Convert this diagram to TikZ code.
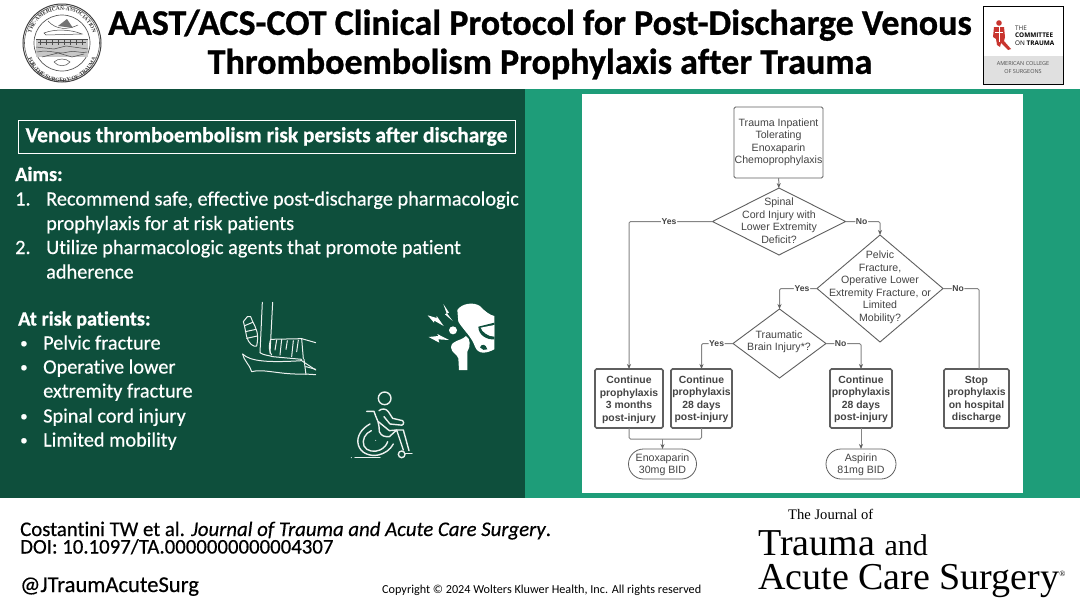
\documentclass[tikz,border=0pt]{standalone}
\usepackage{fontspec}
\setmainfont{Carlito}[Ligatures=NoCommon,BoldFeatures={FakeBold=.8},ItalicFeatures={FakeBold=.4}]
\newfontfamily\bodyfont{Carlito}[Ligatures=NoCommon,FakeBold=.45]
\newfontfamily\chartfont{Liberation Sans}
\newfontfamily\logofont{Liberation Serif}
\newfontfamily\cotfont{Open Sans}
\usetikzlibrary{shapes.geometric,shapes.misc,arrows.meta,decorations.text,calc}
\definecolor{darkgr}{HTML}{0E4F3C}
\definecolor{tealgr}{HTML}{1E9D79}
\definecolor{chartln}{HTML}{5F5F5F}
\definecolor{chartconn}{HTML}{858585}
\definecolor{charttx}{HTML}{444444}
\definecolor{cotred}{HTML}{C8352F}
\newcommand{\lowerby}[1]{\rule{0pt}{#1pt}}
\tikzset{
  x=1pt,y=-1pt,
  flowbox/.style={draw=chartln,line width=.9pt,rounded corners=1.5pt,fill=white,outer sep=0pt,inner sep=0pt,align=center,text=charttx,font=\chartfont\fontsize{10.6}{12.5}\selectfont},
  outcome/.style={flowbox,line width=1.6pt,font=\chartfont\bfseries\fontsize{10.4}{12.5}\selectfont},
  decision/.style={diamond,draw=chartln,line width=.9pt,fill=white,inner sep=0pt,outer sep=0pt},
  dtext/.style={align=center,text=charttx,font=\chartfont\fontsize{10.6}{12.5}\selectfont,inner sep=0pt},
  pill/.style={rounded rectangle,draw=chartln,line width=.8pt,fill=white,inner sep=0pt,outer sep=0pt,align=center,text=charttx,font=\chartfont\fontsize{10.6}{12.5}\selectfont},
  conn/.style={draw=chartconn,line width=1pt,rounded corners=1.5pt,-{Stealth[length=5pt,width=4pt,color=chartln]}},
  connplain/.style={draw=chartconn,line width=1pt,rounded corners=1.5pt},
  yn/.style={fill=white,inner sep=.6pt,text=charttx,font=\chartfont\bfseries\fontsize{8.6}{10}\selectfont},
  body/.style={anchor=base west,inner sep=0pt,text=white,font=\bodyfont\fontsize{20.3}{24}\selectfont},
  bodyb/.style={body,font=\bfseries\fontsize{20.3}{24}\selectfont},
  bulletmark/.style={body,font=\bodyfont\fontsize{15}{24}\selectfont},
  foot/.style={anchor=base west,inner sep=0pt,text=black,font=\bodyfont\fontsize{20.8}{22}\selectfont},
  iconln/.style={draw=white!92!darkgr,line width=1pt,line cap=round,line join=round},
  iconth/.style={draw=white!92!darkgr,line width=1.4pt,line cap=round,line join=round},
  sealln/.style={draw=black!70,line width=.5pt},
}
\begin{document}
\begin{tikzpicture}
\useasboundingbox (0,0) rectangle (1080,608);
\fill[white] (0,0) rectangle (1080,608);
\fill[darkgr] (0,89) rectangle (525,498);
\fill[tealgr] (525,89) rectangle (1080,498);
\fill[white] (582,94) rectangle (1023,493);

% title
\node[inner sep=0pt,align=center,text=black,font=\bfseries\fontsize{36}{39}\selectfont] (title) at (540,44.5)
 {AAST/ACS-COT Clinical Protocol for Post-Discharge Venous\\Thromboembolism Prophylaxis after Trauma};

% seal logo
\begin{scope}[shift={(62,43)}]
 \draw[black!75,line width=1pt] (0,0) circle (39);
 \draw[black!65,line width=.6pt] (0,0) circle (37.5);
 \draw[black!65,line width=.7pt] (0,0) circle (28);
 \path[postaction={decorate,decoration={text along path,text align=center,
   text={|\logofont\bfseries\fontsize{5.4}{7}\selectfont\color{black!80}|THE·AMERICAN·ASSOCIATION}}}]
   (-32,-1) arc[start angle=180,end angle=0,radius=32,y radius=-32];
 \path[postaction={decorate,decoration={text along path,text align=center,
   text={|\logofont\bfseries\fontsize{5.4}{7}\selectfont\color{black!80}|FOR·THE·SURGERY·OF·TRAUMA}}}]
   (-36,3) arc[start angle=180,end angle=360,radius=36,y radius=-36];
 \fill[black!22] (-26,-4) rectangle (26,14);
 \draw[sealln,line width=.9pt] (-26,-4) -- (26,-4) (-24,-1) -- (24,-1);
 \draw[sealln] (-26,4) -- (-8,6) -- (4,3) -- (26,6) (-25,9) .. controls (-12,6) and (-4,12) .. (6,9) .. controls (14,7) and (20,11) .. (25,9) (-20,14) -- (-4,10) -- (10,14) -- (22,11);
 \foreach \xx in {-22,-16,...,22}{\draw[sealln] (\xx,-4) -- (\xx,2);}
 \draw[sealln] (-14,-22) .. controls (-6,-13) and (6,-13) .. (16,-18) (-18,-10) .. controls (-8,-14) and (8,-14) .. (20,-9) -- (-16,-8) -- cycle;
 \fill[black!55] (-4,-17) -- (5,-24) -- (11,-15) -- cycle;
 \draw[sealln] (-8,19) .. controls (-4,15) and (4,15) .. (8,19) .. controls (4,24) and (-4,24) .. (-8,19);
\end{scope}

% COT logo
\draw[black,line width=.9pt,fill=white] (983,6) rectangle (1063,84);
\fill[black!12] (983.5,56) rectangle (1062.5,83.5);
\begin{scope}[cotred]
 \fill (999,23) circle (2.8);
 \fill (994,27) -- (1004,27) -- (1005,37) -- (1004,41) -- (1011,49) -- (1008,50) -- (1001,43) -- (1000,47) -- (997,45) -- (996,39) -- (993,37) -- cycle;
\end{scope}
\draw[white,line width=.4pt] (999,27) -- (999,42) (995,32) -- (1003,32);
\node[anchor=base west,inner sep=0pt,font=\cotfont\fontsize{6.4}{7}\selectfont,text=black!80] (cot1) at (1015,30) {THE};
\node[anchor=base west,inner sep=0pt,font=\cotfont\bfseries\fontsize{6.4}{7}\selectfont,text=black] (cot2) at (1015,37.5) {COMMITTEE};
\node[anchor=base west,inner sep=0pt,font=\cotfont\fontsize{6.4}{7}\selectfont,text=black] (cot3) at (1015,45) {ON \textbf{TRAUMA}};
\node[inner sep=0pt,align=center,font=\cotfont\fontsize{5.5}{8}\selectfont,text=black!70] (cot4) at (1023,67.5) {AMERICAN COLLEGE\\OF SURGEONS};

% left panel
\node[draw=white,line width=.8pt,minimum width=497pt,minimum height=33pt,inner sep=0pt,text=white,font=\bfseries\fontsize{21.4}{24}\selectfont] (riskbox) at (266.5,136.5) {Venous thromboembolism risk persists after discharge};
\node[bodyb] (aims) at (15,181) {Aims:};
\node[body] (n1) at (15,205.5) {1.};
\node[body] (a1) at (46,205.5) {Recommend safe, effective post-discharge pharmacologic};
\node[body] (a2) at (46,230) {prophylaxis for at risk patients};
\node[body] (n2) at (15,254) {2.};
\node[body] (a3) at (46,254) {Utilize pharmacologic agents that promote patient};
\node[body] (a4) at (46,278.5) {adherence};
\node[bodyb] (risk) at (18,325.5) {At risk patients:};
\foreach \yy/\tt/\nm in {349.5/Pelvic fracture/r1,397.5/extremity fracture/r3,422.5/Spinal cord injury/r4,446.5/Limited mobility/r5,373.5/Operative lower/r2}{
  \node[body] (\nm) at (43,\yy) {\tt};
}
\foreach \yy/\nm in {348/b1,372/b2,421/b3,445/b4}{
  \node[bulletmark] (\nm) at (20,\yy) {•};
}

% leg icon
\begin{scope}[shift={(230,290)},scale=1/3]
 \draw[iconln] (97,37) -- (90,188) (128,37) -- (120,190);
 \draw[iconln] (90,188) .. controls (100,196) and (118,196) .. (128,200) -- (215,208);
 \draw[iconln] (52,80) -- (62,80) -- (68,95) .. controls (78,115) and (88,130) .. (80,168) .. controls (70,172) and (55,160) .. (50,140) .. controls (46,120) and (42,100) .. (40,95) -- cycle;
 \draw[iconln] (44,107) -- (68,97) (46,125) -- (78,118) (50,145) -- (82,138);
 \draw[iconln] (122,148) -- (215,146) -- (257,158);
 \draw[iconln] (122,148) .. controls (115,170) and (118,185) .. (125,195);
 \draw[iconln] (215,146) -- (220,206);
 \draw[iconln] (140,150) -- (135,180) (155,148) -- (150,195) (172,152) -- (168,178) (190,152) -- (185,200) (205,150) -- (200,185);
 \draw[iconln] (38,192) .. controls (60,215) and (120,218) .. (215,212) -- (257,240);
 \draw[iconln] (38,192) .. controls (40,210) and (60,225) .. (65,245) .. controls (100,235) and (150,255) .. (225,252) -- (257,254);
 \draw[iconln] (222,208) -- (228,254) (228,230) -- (257,238);
\end{scope}

% hip icon
\begin{scope}[shift={(230,290)},scale=1/3]
 \fill[white] (682,60) .. controls (695,40) and (730,35) .. (750,48) .. controls (765,65) and (780,75) .. (793,78) -- (793,178) .. controls (770,190) and (745,195) .. (735,170) .. controls (725,140) and (700,120) .. (685,95) -- cycle;
 \fill[darkgr] (745,110) -- (793,98) -- (793,148) .. controls (770,150) and (745,135) .. (745,110) -- cycle;
 \fill[white] (793,105) -- (793,140) .. controls (775,140) and (755,125) .. (752,113) -- cycle;
 \fill[darkgr] (750,172) .. controls (755,160) and (768,162) .. (772,178) .. controls (765,182) and (755,180) .. (750,172) -- cycle;
 \fill[white] (669,121) circle (12);
 \fill[white] (663,172) .. controls (665,150) and (690,155) .. (708,138) .. controls (722,145) and (722,170) .. (712,185) -- (712,240) -- (687,240) -- (685,205) .. controls (680,190) and (665,190) .. (663,172) -- cycle;
 \fill[white] (640,42) -- (657,68) -- (651,70) -- (668,93) -- (645,73) -- (650,70) -- cycle;
 \fill[white] (593,76) -- (620,84) -- (620,78) -- (641,108) -- (613,92) -- (612,98) -- cycle;
 \fill[white] (596,141) -- (625,138) -- (622,132) -- (657,150) -- (625,148) -- (628,158) -- cycle;
\end{scope}

% wheelchair icon
\begin{scope}[shift={(230,290)},scale=1/3]
 \draw[iconth] (464,325) circle (19);
 \draw[iconth] (420,402) .. controls (395,415) and (378,440) .. (385,465) .. controls (392,490) and (420,500) .. (445,495) .. controls (465,490) and (480,480) .. (490,462);
 \draw[iconth] (424,422) .. controls (405,430) and (395,450) .. (402,468) .. controls (410,485) and (435,487) .. (450,480) .. controls (462,474) and (470,465) .. (473,455);
 \draw[iconth] (410,364) -- (432,364) -- (437,378) -- (444,395) (444,395) .. controls (445,405) and (450,415) .. (448,425) .. controls (455,440) and (465,440) .. (478,440) -- (500,420) -- (520,480);
 \draw[iconth] (447,362) .. controls (455,355) and (468,355) .. (475,365) -- (488,385) -- (518,392) .. controls (525,400) and (518,408) .. (510,405) -- (480,402) -- (462,380);
 \draw[iconth] (445,395) -- (478,422) -- (500,420) -- (520,420) -- (537,482);
 \draw[iconth] (515,493) circle (10);
 \draw[iconth] (525,490) -- (546,490);
 \draw[iconth] (375,503) -- (450,503);
 \fill[white] (364,503) circle (1.6pt);
 \fill[white] (437,451) circle (1.5pt);
\end{scope}

% flowchart
\node[flowbox,minimum width=89pt,minimum height=71pt] (start) at (778.5,142.5) {Trauma Inpatient\\Tolerating\\Enoxaparin\\Chemoprophylaxis};
\node[decision,minimum width=133pt,minimum height=67pt] (d1) at (779,221.5) {};
\node[dtext] (d1t) at (779,220.5) {Spinal\\Cord Injury with\\Lower Extremity\\Deficit?};
\node[decision,minimum width=126pt,minimum height=107pt] (d2) at (880,288.5) {};
\node[dtext] (d2t) at (880,287.5) {Pelvic\\Fracture,\\Operative Lower\\Extremity Fracture, or\\Limited\\Mobility?};
\node[decision,minimum width=93pt,minimum height=69pt] (d3) at (779.5,343.5) {};
\node[dtext] (d3t) at (779,342) {Traumatic\\Brain Injury*?};
\node[outcome,minimum width=68pt,minimum height=59pt] (ba) at (629,398.5) {\lowerby{10.5}Continue\\prophylaxis\\3 months\\post-injury};
\node[outcome,minimum width=61pt,minimum height=59pt] (bb) at (701.5,398.5) {\lowerby{9.2}Continue\\prophylaxis\\28 days\\post-injury};
\node[outcome,minimum width=62pt,minimum height=59pt] (bc) at (861,398.5) {\lowerby{9.2}Continue\\prophylaxis\\28 days\\post-injury};
\node[outcome,minimum width=65pt,minimum height=59pt] (bd) at (976.5,398.5) {\lowerby{9.2}Stop\\prophylaxis\\on hospital\\discharge};
\node[pill,minimum width=68pt,minimum height=30pt] (p1) at (662.5,464) {\lowerby{9.6}Enoxaparin\\30mg BID};
\node[pill,minimum width=70pt,minimum height=30pt] (p2) at (861,464) {\lowerby{9.6}Aspirin\\81mg BID};
\coordinate (mrg) at (662.5,439);
\coordinate (bdtop) at (979,369);

\draw[conn] (start) -- (d1);
\draw[conn] (d1.west) -| node[yn,pos=.26] {Yes} (ba.north);
\draw[conn] (d1.east) -| node[yn,pos=.235] {No} (d2.north);
\draw[conn] (d2.west) -| node[yn,pos=.2] {Yes} (d3.north);
\draw[connplain] (d2.east) -| node[yn,pos=.21] {No} (bdtop);
\draw[conn] (d3.west) -| node[yn,pos=.26] {Yes} (bb.north);
\draw[conn] (d3.east) -| node[yn,pos=.21] {No} (bc.north);
\draw[connplain] (ba.south) |- (mrg) -| (bb.south);
\draw[conn] (mrg) -- (p1.north);
\draw[conn] (bc.south) -- (p2.north);

% footer
\node[foot] (f1) at (20,536) {Costantini TW et al. {\normalfont\itshape Journal of Trauma and Acute Care Surgery}.};
\node[foot] (f2) at (20,553.5) {DOI: 10.1097/TA.0000000000004307};
\node[foot,font=\bodyfont\fontsize{22.6}{24}\selectfont] (f3) at (20,592) {@JTraumAcuteSurg};
\node[foot,font=\fontsize{12.2}{13}\selectfont] (f4) at (382,593) {Copyright © 2024  Wolters Kluwer Health, Inc. All rights reserved};
\node[anchor=base west,inner sep=0pt,font=\logofont\fontsize{14.6}{17}\selectfont] (j1) at (788,519) {The Journal of};
\node[anchor=base west,inner sep=0pt,font=\logofont\fontsize{38}{40}\selectfont] (j2) at (758,555) {Trauma \fontsize{30}{30}\selectfont and};
\node[anchor=base west,inner sep=0pt,font=\logofont\fontsize{38}{40}\selectfont] (j3) at (758,589) {Acute Care Surgery\raisebox{13pt}{\fontsize{8}{8}\selectfont®}};
\end{tikzpicture}
\end{document}
